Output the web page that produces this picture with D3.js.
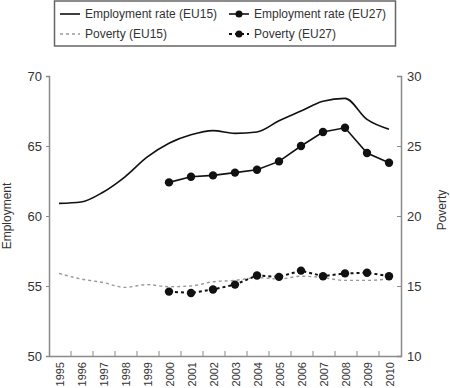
<!DOCTYPE html>
<html>
<head>
<meta charset="utf-8">
<script src="https://cdn.jsdelivr.net/npm/d3@7"></script>
<style>
  body { margin: 0; background: #fff; }
  svg { font-family: "Liberation Sans", Arial, sans-serif; display: block; }
</style>
</head>
<body>
<svg width="450" height="388"></svg>
<script>
// years on the x axis
const years = [1995, 1996, 1997, 1998, 1999, 2000, 2001, 2002, 2003, 2004, 2005, 2006, 2007, 2008, 2009, 2010];

// employment rate, left axis (null = no data)
const empEU15 = [60.9, 61.0, 61.7, 62.8, 64.2, 65.2, 65.8, 66.1, 65.9, 66.0, 66.8, 67.5, 68.2, 68.4, 66.9, 66.2];
const empEU27 = [null, null, null, null, null, 62.4, 62.8, 62.9, 63.1, 63.3, 63.9, 65.0, 66.0, 66.3, 64.5, 63.8];

// poverty, right axis
const povEU15 = [15.9, 15.5, 15.25, 14.9, 15.1, 14.95, 15.0, 15.3, 15.4, 15.6, 15.5, 15.7, 15.6, 15.4, 15.4, 15.5];
const povEU27 = [null, null, null, null, null, 14.6, 14.5, 14.75, 15.1, 15.75, 15.65, 16.1, 15.7, 15.9, 15.95, 15.7];

const empTicks = [50, 55, 60, 65, 70];
const povTicks = [10, 15, 20, 25, 30];

const svg = d3.select('svg');
const margin = { top: 76, right: 49, bottom: 32, left: 49 };
const width = +svg.attr('width');
const height = +svg.attr('height');
const innerWidth = width - margin.left - margin.right;
const innerHeight = height - margin.top - margin.bottom;
const axisColor = '#8a8a8a';
const textColor = '#333';

const x = d3.scaleBand().domain(years).range([0, innerWidth]);
const yLeft = d3.scaleLinear().domain([50, 70]).range([innerHeight, 0]);
const yRight = d3.scaleLinear().domain([10, 30]).range([innerHeight, 0]);

const g = svg.append('g')
  .attr('transform', `translate(${margin.left}, ${margin.top})`);

// left axis
const left = g.append('g').call(d3.axisLeft(yLeft).tickValues(empTicks).tickSize(3).tickPadding(4));
// right axis, ticks pointing in
const right = g.append('g')
  .attr('transform', `translate(${innerWidth}, 0)`)
  .call(d3.axisRight(yRight).tickValues(povTicks).tickSize(-4).tickPadding(6));

// bottom axis: ticks between years, pointing up
const bottom = g.append('g')
  .attr('transform', `translate(0, ${innerHeight})`)
  .call(d3.axisBottom(x).tickSize(0).tickPadding(5));
bottom.selectAll('.tick text')
  .attr('transform', 'rotate(-90)')
  .attr('text-anchor', 'end')
  .attr('x', -6)
  .attr('y', 0)
  .attr('dy', '0.35em');
bottom.selectAll('.boundary').data(years.slice(1))
  .enter().append('line')
    .attr('class', 'boundary')
    .attr('x1', d => x(d)).attr('x2', d => x(d))
    .attr('y1', 0).attr('y2', -5)
    .attr('stroke', axisColor);

[left, right, bottom].forEach(ax => {
  ax.select('.domain').attr('stroke', axisColor).attr('stroke-width', 1.5);
  ax.selectAll('.tick line').attr('stroke', axisColor);
  ax.selectAll('.tick text').attr('fill', textColor).attr('font-size', 13);
});
bottom.selectAll('.tick text').attr('font-size', 11);

// axis titles
svg.append('text')
  .attr('transform', `translate(11, ${margin.top + innerHeight / 2}) rotate(-90)`)
  .attr('text-anchor', 'middle')
  .attr('fill', textColor)
  .attr('font-size', 12)
  .text('Employment');
svg.append('text')
  .attr('transform', `translate(446, ${margin.top + innerHeight / 2 - 6}) rotate(-90)`)
  .attr('text-anchor', 'middle')
  .attr('fill', textColor)
  .attr('font-size', 12)
  .text('Poverty');

const cx = d => x(d) + x.bandwidth() / 2 - 1;

const series = [
  { name: 'Employment rate (EU15)', values: empEU15, scale: yLeft, color: '#111', width: 1.6, dash: null, dots: false },
  { name: 'Employment rate (EU27)', values: empEU27, scale: yLeft, color: '#111', width: 1.6, dash: null, dots: true },
  { name: 'Poverty (EU15)', values: povEU15, scale: yRight, color: '#999', width: 1.4, dash: '3,3', dots: false },
  { name: 'Poverty (EU27)', values: povEU27, scale: yRight, color: '#111', width: 2, dash: '3,3', dots: true }
];

series.forEach(s => {
  const pts = years.map((yr, i) => ({ yr, v: s.values[i] })).filter(p => p.v !== null);
  const line = d3.line()
    .x(p => cx(p.yr))
    .y(p => s.scale(p.v))
    .curve(s.dots ? d3.curveLinear : d3.curveMonotoneX);
  g.append('path')
    .datum(pts)
    .attr('d', line)
    .attr('fill', 'none')
    .attr('stroke', s.color)
    .attr('stroke-width', s.width)
    .attr('stroke-dasharray', s.dash);
  if (s.dots) {
    g.selectAll(null).data(pts)
      .enter().append('circle')
        .attr('cx', p => cx(p.yr))
        .attr('cy', p => s.scale(p.v))
        .attr('r', 4.2)
        .attr('fill', '#111');
  }
});

// legend
const legend = svg.append('g');
legend.append('rect')
  .attr('x', 54.5).attr('y', 1)
  .attr('width', 341).attr('height', 45)
  .attr('fill', 'none')
  .attr('stroke', '#666')
  .attr('stroke-width', 1.5);

const legendPos = [[60, 14], [229, 14], [60, 34], [229, 34]];
series.forEach((s, i) => {
  const [lx, ly] = legendPos[i];
  const item = legend.append('g').attr('transform', `translate(${lx}, ${ly})`);
  item.append('line')
    .attr('x1', 0).attr('x2', 20)
    .attr('stroke', s.color)
    .attr('stroke-width', s.width)
    .attr('stroke-dasharray', s.dash);
  if (s.dots) {
    item.append('circle').attr('cx', 10).attr('r', 3.5).attr('fill', '#111');
  }
  item.append('text')
    .attr('x', 25)
    .attr('dy', '0.35em')
    .attr('fill', textColor)
    .attr('font-size', 12)
    .text(s.name);
});
</script>
</body>
</html>
